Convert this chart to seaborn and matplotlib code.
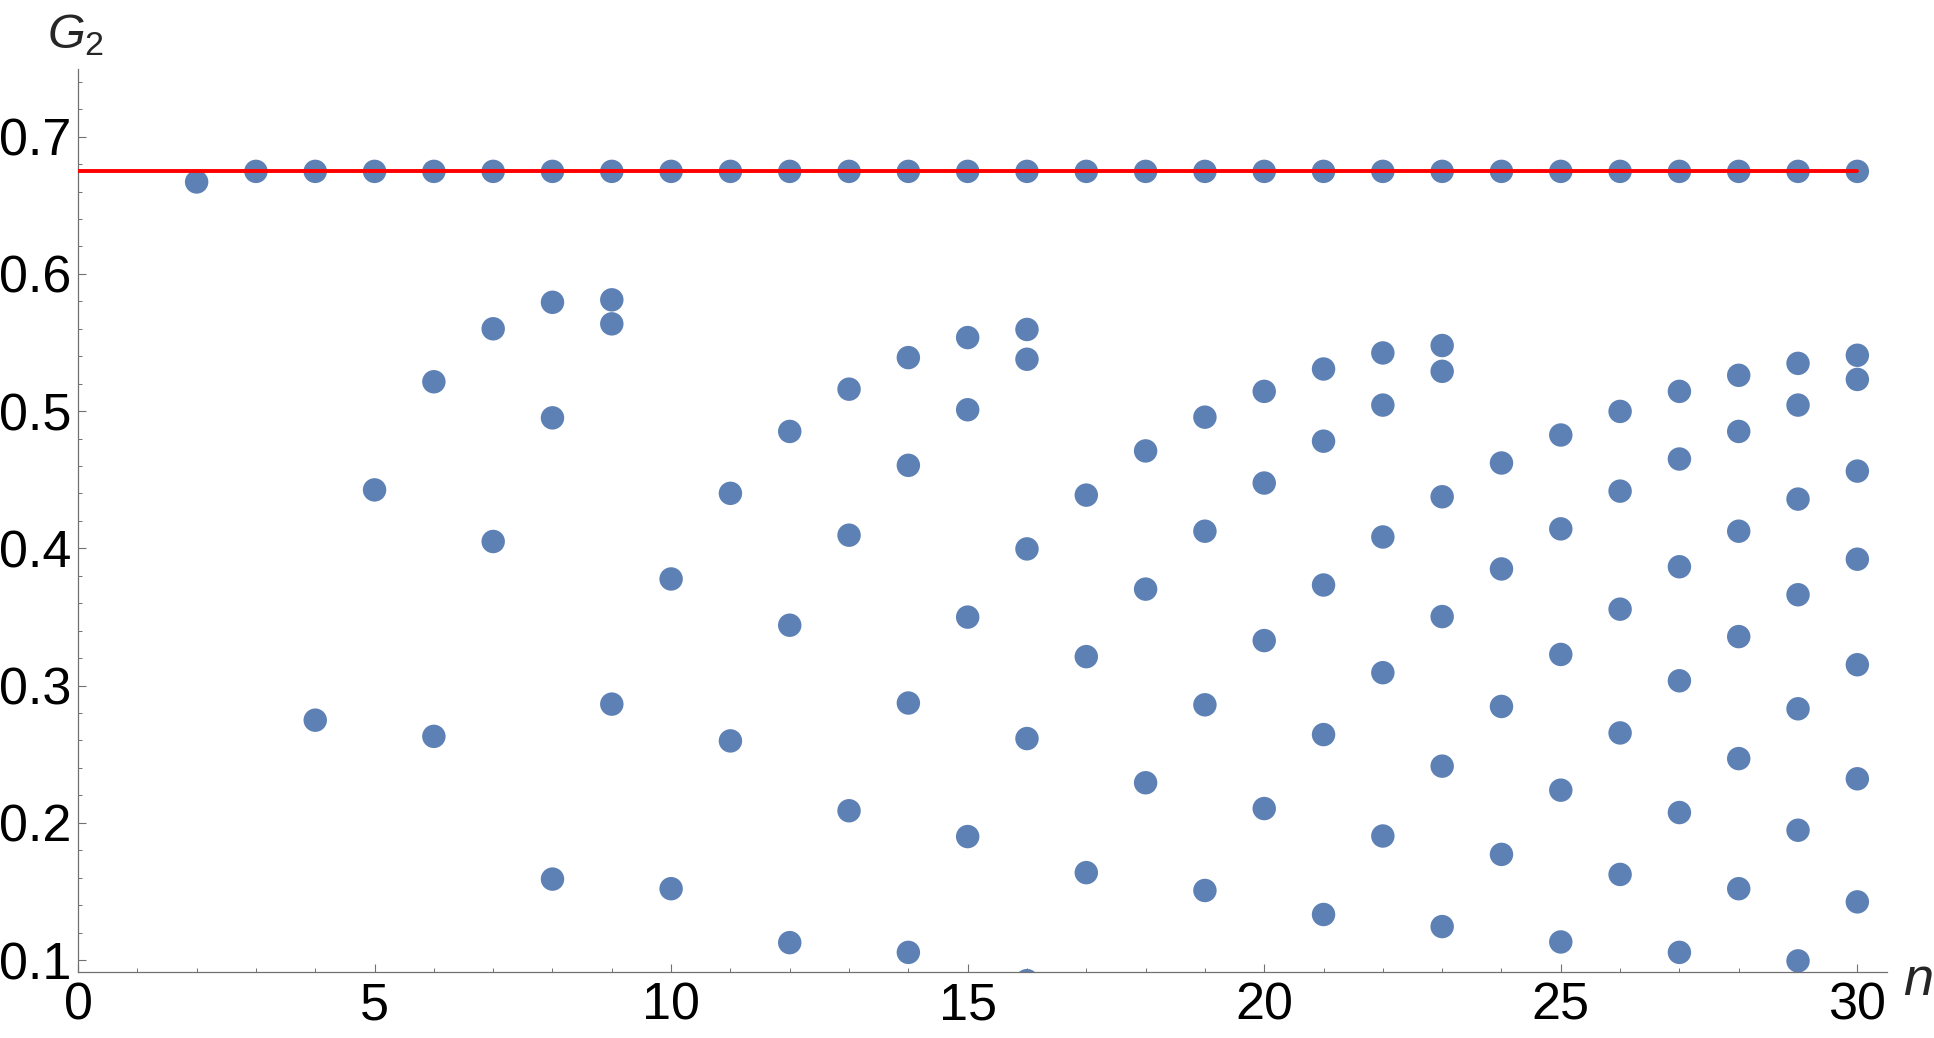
import numpy as np
import pandas as pd
import matplotlib
matplotlib.use("Agg")
import matplotlib.pyplot as plt
from matplotlib.ticker import MultipleLocator
import seaborn as sns

# values, column by column
n_vals = [2,
          3,
          4, 4,
          5, 5,
          6, 6, 6,
          7, 7, 7,
          8, 8, 8, 8,
          9, 9, 9, 9,
          10, 10, 10,
          11, 11, 11,
          12, 12, 12, 12,
          13, 13, 13, 13,
          14, 14, 14, 14, 14,
          15, 15, 15, 15, 15,
          16, 16, 16, 16, 16, 16,
          17, 17, 17, 17,
          18, 18, 18, 18,
          19, 19, 19, 19, 19,
          20, 20, 20, 20, 20,
          21, 21, 21, 21, 21, 21,
          22, 22, 22, 22, 22, 22,
          23, 23, 23, 23, 23, 23, 23,
          24, 24, 24, 24, 24,
          25, 25, 25, 25, 25, 25,
          26, 26, 26, 26, 26, 26,
          27, 27, 27, 27, 27, 27, 27,
          28, 28, 28, 28, 28, 28, 28,
          29, 29, 29, 29, 29, 29, 29, 29,
          30, 30, 30, 30, 30, 30, 30, 30]
g2_vals = [0.667,
           0.6747,
           0.6747, 0.2748,
           0.6747, 0.4426,
           0.6747, 0.5214, 0.263,
           0.6747, 0.560, 0.405,
           0.6747, 0.5793, 0.4951, 0.159,
           0.6747, 0.5811, 0.5636, 0.2865,
           0.6747, 0.3777, 0.152,
           0.6747, 0.4401, 0.2597,
           0.6747, 0.4852, 0.3440, 0.1127,
           0.6747, 0.516, 0.4096, 0.2088,
           0.6747, 0.539, 0.4605, 0.2873, 0.1056,
           0.6747, 0.5536, 0.501, 0.3499, 0.19,
           0.6747, 0.5595, 0.5378, 0.3996, 0.2614, 0.085,
           0.6747, 0.4388, 0.3211, 0.1637,
           0.6747, 0.471, 0.3703, 0.2292,
           0.6747, 0.4956, 0.4125, 0.286, 0.1507,
           0.6747, 0.5144, 0.4476, 0.3328, 0.2104,
           0.6747, 0.5307, 0.4781, 0.3733, 0.2643, 0.1332,
           0.6747, 0.5424, 0.5044, 0.4083, 0.3094, 0.1904,
           0.6747, 0.5478, 0.529, 0.4376, 0.3503, 0.2413, 0.1244,
           0.6747, 0.4622, 0.385, 0.2848, 0.177,
           0.6747, 0.4826, 0.4142, 0.3227, 0.2238, 0.1132,
           0.6747, 0.4998, 0.4417, 0.3557, 0.2655, 0.1624,
           0.6747, 0.5144, 0.4651, 0.3866, 0.3035, 0.2075, 0.1056,
           0.6747, 0.5261, 0.4852, 0.4125, 0.3357, 0.2468, 0.152,
           0.6747, 0.5348, 0.5044, 0.4359, 0.3662, 0.2831, 0.1946, 0.0994,
           0.6747, 0.5407, 0.5231, 0.4563, 0.3921, 0.3152, 0.2321, 0.1424]

# red limit line
line_n = [0, 30]
line_g2 = [0.6747, 0.6747]

x_ticks = [0, 5, 10, 15, 20, 25, 30]
y_ticks = [0.1, 0.2, 0.3, 0.4, 0.5, 0.6, 0.7]

df = pd.DataFrame({"n": n_vals, "G2": g2_vals})
lim = pd.DataFrame({"n": line_n, "G2": line_g2})

sns.set_style("ticks")
plt.rcParams['font.family'] = ['Liberation Sans', 'DejaVu Sans']
plt.rcParams['mathtext.fontset'] = 'custom'
plt.rcParams['mathtext.rm'] = 'Liberation Sans'
plt.rcParams['mathtext.it'] = 'Liberation Sans:italic'

W, H = 1934, 1038
fig = plt.figure(figsize=(W / 100, H / 100), dpi=100)
ax = fig.add_axes([78 / W, (H - 972) / H, (1887 - 78) / W, (972 - 69) / H])

pt_color = (0.368417, 0.506779, 0.709798)
sns.scatterplot(data=df, x="n", y="G2", ax=ax, s=285, color=pt_color,
                edgecolor="none", linewidth=0, zorder=2, legend=False)
sns.lineplot(data=lim, x="n", y="G2", ax=ax, color="#ff0000", lw=2.8, zorder=3)

ax.set_xlim(0, 30.5)
ax.set_ylim(0.0913, 0.7493)
ax.set_xlabel("")
ax.set_ylabel("")

ax.set_xticks(x_ticks)
ax.set_xticklabels([str(t) for t in x_ticks])
ax.set_yticks(y_ticks)
ax.set_yticklabels([f"{t:.1f}" for t in y_ticks])
ax.xaxis.set_minor_locator(MultipleLocator(1))
ax.yaxis.set_minor_locator(MultipleLocator(0.02))

gray = "#707070"
for side in ["top", "right"]:
    ax.spines[side].set_visible(False)
for side in ["left", "bottom"]:
    ax.spines[side].set_color(gray)
    ax.spines[side].set_linewidth(0.9)
ax.tick_params(axis="both", which="major", direction="in", length=5.5, width=0.8,
               color=gray, labelsize=37.5, labelcolor="black")
ax.tick_params(axis="both", which="minor", direction="in", length=3, width=0.7, color=gray)
ax.tick_params(axis="x", which="major", pad=7)
ax.tick_params(axis="y", which="major", pad=5)

fig.text(76 / W, 1 - 48 / H, r"$G_2$", ha="center", va="baseline", fontsize=35)
fig.text(1903 / W, 1 - 995 / H, "n", ha="left", va="baseline", fontsize=39, style="italic")

fig.savefig("out.png", dpi=100)
